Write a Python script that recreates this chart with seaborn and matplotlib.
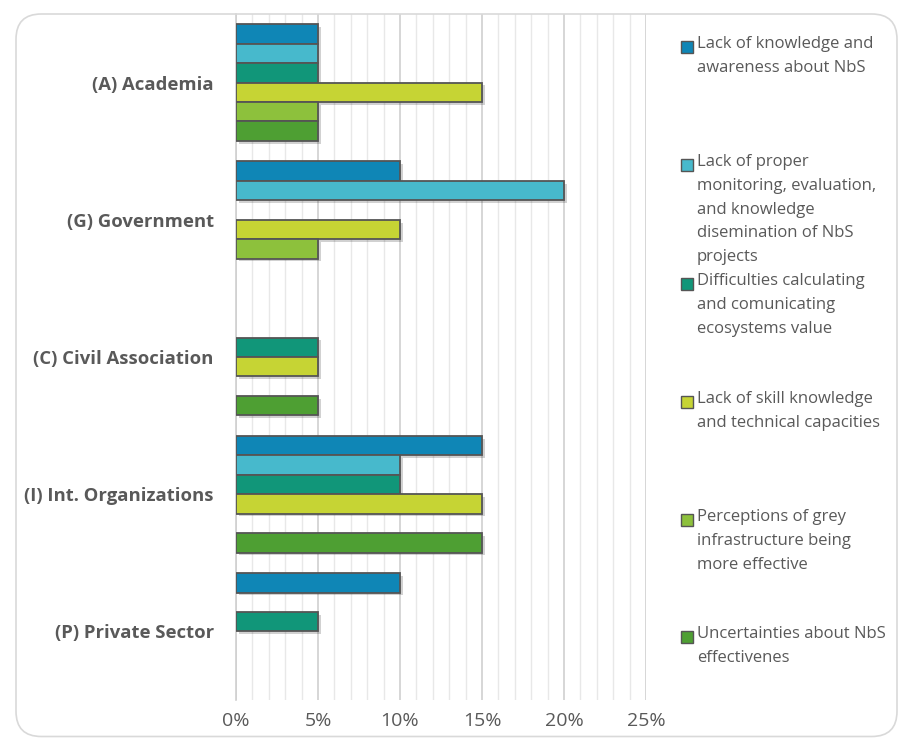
import matplotlib
matplotlib.use("Agg")
import matplotlib.pyplot as plt
import matplotlib.patheffects as pe
import seaborn as sns
import pandas as pd
from matplotlib.patches import FancyBboxPatch, Rectangle
from matplotlib.ticker import MultipleLocator, FuncFormatter

categories = ["(A) Academia", "(G) Government", "(C) Civil Association",
              "(I) Int. Organizations", "(P) Private Sector"]
series = ["Lack of knowledge and\nawareness about NbS",
          "Lack of proper\nmonitoring, evaluation,\nand knowledge\ndisemination of NbS\nprojects",
          "Difficulties calculating\nand comunicating\necosystems value",
          "Lack of skill knowledge\nand technical capacities",
          "Perceptions of grey\ninfrastructure being\nmore effective",
          "Uncertainties about NbS\neffectivenes"]
# values in %, one list per series, in category order
lack_knowledge = [5, 10, 0, 15, 10]
lack_monitoring = [5, 20, 0, 10, 0]
difficulties_value = [5, 0, 5, 10, 5]
lack_skill = [15, 10, 5, 15, 0]
perceptions_grey = [5, 5, 0, 0, 0]
uncertainties = [5, 0, 5, 15, 0]
values = [lack_knowledge, lack_monitoring, difficulties_value,
          lack_skill, perceptions_grey, uncertainties]

colors = ["#0F86B6", "#47B9CC", "#119679", "#C6D434", "#8DC13C", "#4E9F33"]

rows = []
for s, vals in zip(series, values):
    for c, v in zip(categories, vals):
        if v > 0:
            rows.append({"category": c, "series": s, "value": v})
df = pd.DataFrame(rows)

sns.set_style("white")
plt.rcParams["font.family"] = ["Open Sans", "DejaVu Sans"]
fig = plt.figure(figsize=(9.02, 7.38), dpi=100)
W, H = 902, 738
ax = fig.add_axes([236 / W, 1 - 700 / H, (646 - 236) / W, (700 - 14) / H])

# rounded frame
frame = FancyBboxPatch((16 / W, 1.5 / H), (897 - 16) / W, (737 - 13 - 1.5) / H,
                       boxstyle="round,pad=0,rounding_size=0.028",
                       transform=fig.transFigure, facecolor="none", edgecolor="#D9D9D9",
                       linewidth=1.2, zorder=0, mutation_aspect=W / H)
fig.patches.append(frame)

sns.barplot(data=df, x="value", y="category", hue="series", order=categories,
            hue_order=series, palette=colors, saturation=1, orient="h", width=0.85,
            edgecolor="#555555", linewidth=1.3, ax=ax, legend=False, zorder=3)
for p in ax.patches:
    p.set_path_effects([pe.SimplePatchShadow(offset=(2, -2), alpha=0.18, shadow_rgbFace="#000000"),
                        pe.Normal()])

ax.set_xlim(0, 25)
ax.set_ylim(len(categories) - 0.5, -0.5)
ax.xaxis.set_major_locator(MultipleLocator(5))
ax.xaxis.set_minor_locator(MultipleLocator(1))
ax.grid(True, axis="x", which="major", color="#D0D0D0", linewidth=1.2, zorder=0)
ax.grid(True, axis="x", which="minor", color="#E8E8E8", linewidth=1.0, zorder=0)
ax.set_axisbelow(True)
for sp in ["top", "right", "bottom"]:
    ax.spines[sp].set_visible(False)
ax.spines["left"].set_color("#D0D0D0")
ax.spines["left"].set_linewidth(1.2)
ax.xaxis.set_major_formatter(FuncFormatter(lambda v, p: f"{int(v)}%"))
ax.tick_params(axis="x", which="both", length=0, pad=9, labelsize=14, labelcolor="#595959")
ax.tick_params(axis="y", length=0, pad=16)
for lab in ax.get_yticklabels():
    lab.set_fontweight("bold")
    lab.set_fontsize(13.3)
    lab.set_color("#595959")
ax.set_xlabel("")
ax.set_ylabel("")

# legend, drawn at the right
legend_tops = [36, 154, 273, 391, 509, 626]
for s, col, top in zip(series, colors, legend_tops):
    fig.patches.append(Rectangle((681 / W, 1 - (top + 17) / H), 12 / W, 12 / H,
                                 transform=fig.transFigure, facecolor=col,
                                 edgecolor="#555555", linewidth=1.0))
    fig.text(697 / W, 1 - top / H, s, ha="left", va="top", fontsize=12,
             color="#595959", linespacing=1.65)

fig.savefig("out.png", dpi=100)
